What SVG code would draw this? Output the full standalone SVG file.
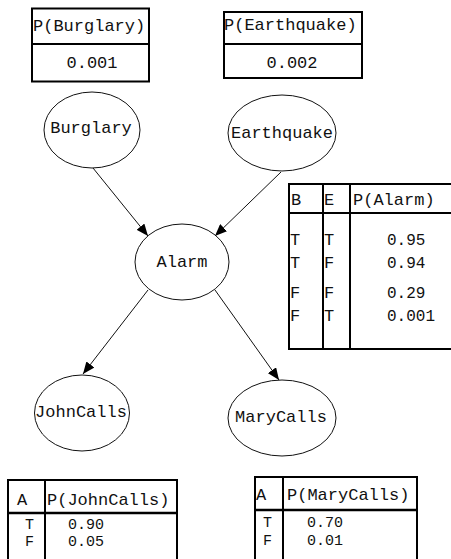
<svg xmlns="http://www.w3.org/2000/svg" width="451" height="559" viewBox="0 0 451 559">
<style>
text{font-family:"Liberation Mono","Courier New",monospace;font-size:17px;fill:#111}
.num{font-size:16px}
.sm{font-size:15px}
.mid{text-anchor:middle}
.tb{fill:#fff;stroke:#000;stroke-width:2}
.ln{stroke:#000;stroke-width:2;fill:none}
.ln3{stroke:#000;stroke-width:2.6;fill:none}
.node{fill:#fff;stroke:#111;stroke-width:1}
.edge{stroke:#111;stroke-width:1;fill:none;marker-end:url(#ah)}
</style>
<defs>
<marker id="ah" markerUnits="userSpaceOnUse" markerWidth="12" markerHeight="10" viewBox="0 0 12 10" refX="12" refY="5" orient="auto">
<path d="M0,0 L12,5 L0,10 Z" fill="#000"/>
</marker>
</defs>
<rect width="451" height="559" fill="#fff"/>

<g id="cpt-burglary">
<rect class="tb" x="32" y="8.5" width="117" height="73"/>
<line class="ln" x1="32" y1="44" x2="149" y2="44"/>
<text x="33" y="31">P(Burglary)</text>
<text class="mid" x="92" y="68">0.001</text>
</g>

<g id="cpt-earthquake">
<rect class="tb" x="224" y="12" width="138" height="66"/>
<line class="ln" x1="224" y1="44" x2="362" y2="44"/>
<text x="224" y="30">P(Earthquake)</text>
<text class="mid" x="292" y="68">0.002</text>
</g>

<g id="cpt-alarm">
<rect class="tb" x="289" y="184" width="170" height="165"/>
<line class="ln" x1="289" y1="213" x2="459" y2="213"/>
<line class="ln" x1="323" y1="184" x2="323" y2="349"/>
<line class="ln" x1="350" y1="184" x2="350" y2="349"/>
<text x="291" y="205">B</text>
<text x="324" y="205">E</text>
<text x="353" y="205">P(Alarm)</text>
<text x="290" y="245">T</text><text x="324" y="245">T</text><text class="num" x="387" y="245">0.95</text>
<text x="290" y="268">T</text><text x="324" y="268">F</text><text class="num" x="387" y="268">0.94</text>
<text x="290" y="298">F</text><text x="324" y="298">F</text><text class="num" x="387" y="298">0.29</text>
<text x="290" y="321">F</text><text x="324" y="321">T</text><text class="num" x="387" y="321">0.001</text>
</g>

<g id="cpt-johncalls">
<rect class="tb" x="8" y="480" width="169" height="100"/>
<line class="ln3" x1="8" y1="513" x2="177" y2="513"/>
<line class="ln" x1="45" y1="480" x2="45" y2="559"/>
<text x="17" y="505">A</text>
<text x="47" y="505">P(JohnCalls)</text>
<text class="sm" x="25" y="529">T</text><text class="sm" x="68" y="529">0.90</text>
<text class="sm" x="25" y="546">F</text><text class="sm" x="68" y="546">0.05</text>
</g>

<g id="cpt-marycalls">
<rect class="tb" x="255" y="477" width="162" height="100"/>
<line class="ln3" x1="255" y1="510" x2="417" y2="510"/>
<line class="ln" x1="283" y1="477" x2="283" y2="559"/>
<text x="256" y="500">A</text>
<text x="287" y="500">P(MaryCalls)</text>
<text class="sm" x="263" y="527">T</text><text class="sm" x="307" y="527">0.70</text>
<text class="sm" x="263" y="545">F</text><text class="sm" x="307" y="545">0.01</text>
</g>

<g id="burglary">
<ellipse class="node" cx="92" cy="130" rx="48" ry="38"/>
<text class="mid" x="91" y="133">Burglary</text>
</g>
<g id="earthquake">
<ellipse class="node" cx="282" cy="133" rx="54" ry="38"/>
<text class="mid" x="282" y="138">Earthquake</text>
</g>
<g id="alarm">
<ellipse class="node" cx="182" cy="262" rx="47" ry="38"/>
<text class="mid" x="182" y="267">Alarm</text>
</g>
<g id="johncalls">
<ellipse class="node" cx="82" cy="413" rx="47.5" ry="38"/>
<text class="mid" x="81" y="417">JohnCalls</text>
</g>
<g id="marycalls">
<ellipse class="node" cx="282" cy="418" rx="54" ry="38"/>
<text class="mid" x="281" y="422">MaryCalls</text>
</g>

<g id="connectors">
<line class="edge" x1="93" y1="168" x2="148" y2="236"/>
<line class="edge" x1="281" y1="172" x2="215" y2="236"/>
<line class="edge" x1="148" y1="290" x2="83" y2="374"/>
<line class="edge" x1="215" y1="290" x2="279" y2="380"/>
</g>
</svg>
